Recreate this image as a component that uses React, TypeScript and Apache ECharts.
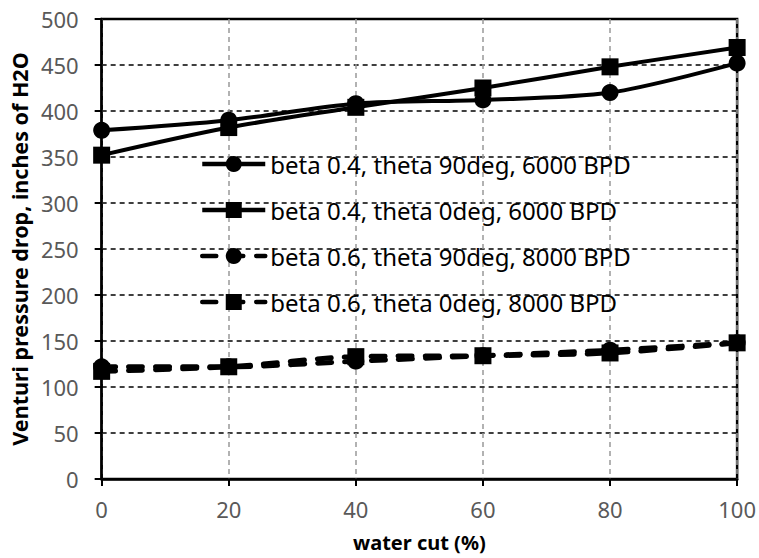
import React, { useEffect, useRef } from "react";
import * as echarts from "echarts";

const waterCut = [0, 20, 40, 60, 80, 100];
const s1Name = "beta 0.4, theta 90deg, 6000 BPD";
const s2Name = "beta 0.4, theta 0deg, 6000 BPD";
const s3Name = "beta 0.6, theta 90deg, 8000 BPD";
const s4Name = "beta 0.6, theta 0deg, 8000 BPD";
const s1Values = [379, 390, 408, 412, 420, 452];
const s2Values = [352, 382, 404, 425, 448, 469];
const s3Values = [122, 122, 128, 134, 140, 148];
const s4Values = [117, 122, 133, 134, 137, 148];

const FONT = "'Noto Sans', sans-serif";

export default function App() {
  const ref = useRef<HTMLDivElement>(null);
  useEffect(() => {
    if (!ref.current) return;
    const chart = echarts.init(ref.current, undefined, { renderer: "svg" });
    const mk = (name: string, vals: number[], symbol: string, dashed: boolean) => ({
      name,
      type: "line",
      data: waterCut.map((x, i) => [x, vals[i]]),
      symbol,
      symbolSize: 17,
      smooth: 0.3,
      lineStyle: {
        color: "#000",
        width: dashed ? 5 : 4,
        type: dashed ? [14, 13] : "solid",
        cap: dashed ? "round" : "butt",
      },
      itemStyle: { color: "#000" },
      z: 3,
    });
    chart.setOption({
      animation: false,
      backgroundColor: "#fff",
      grid: {
        left: 101,
        right: 21,
        top: 19,
        bottom: 79,
        show: true,
        borderColor: "#000",
        borderWidth: 2.5,
        backgroundColor: "transparent",
      },
      legend: {
        left: 200,
        top: 152,
        padding: 0,
        orient: "vertical",
        itemWidth: 63,
        itemHeight: 20,
        itemGap: 22,
        lineStyle: { width: 4.5 },
        textStyle: { fontFamily: FONT, fontSize: 24, color: "#000" },
        backgroundColor: "transparent",
        data: [s1Name, s2Name, s3Name, s4Name],
      },
      xAxis: {
        type: "value",
        min: 0,
        max: 100,
        interval: 20,
        name: "water cut (%)",
        nameLocation: "middle",
        nameGap: 53,
        nameTextStyle: { fontFamily: FONT, fontSize: 20, fontWeight: "bold", color: "#000" },
        axisLine: { lineStyle: { color: "#000", width: 2.5 } },
        axisTick: { show: true, length: 7, lineStyle: { color: "#000", width: 2 } },
        axisLabel: { fontFamily: FONT, fontSize: 22, color: "#595959", margin: 19 },
        splitLine: { show: true, lineStyle: { color: "#999", type: [5, 4], width: 1.5 } },
      },
      yAxis: {
        type: "value",
        min: 0,
        max: 500,
        interval: 50,
        name: "Venturi pressure drop, inches of H2O",
        nameLocation: "middle",
        nameGap: 68,
        nameTextStyle: { fontFamily: FONT, fontSize: 21.5, fontWeight: "bold", color: "#000" },
        axisLine: { lineStyle: { color: "#000", width: 2.5 } },
        axisTick: { show: true, length: 7, lineStyle: { color: "#000", width: 2 } },
        axisLabel: { fontFamily: FONT, fontSize: 22, color: "#595959", margin: 23 },
        splitLine: { show: true, lineStyle: { color: "#000", type: [5, 4], width: 1.5 } },
      },
      series: [
        mk(s1Name, s1Values, "circle", false),
        mk(s2Name, s2Values, "rect", false),
        mk(s3Name, s3Values, "circle", true),
        mk(s4Name, s4Values, "rect", true),
      ],
    });
    return () => chart.dispose();
  }, []);
  return <div ref={ref} style={{ width: 759, height: 558, position: "absolute", left: 0, top: 0 }} />;
}
